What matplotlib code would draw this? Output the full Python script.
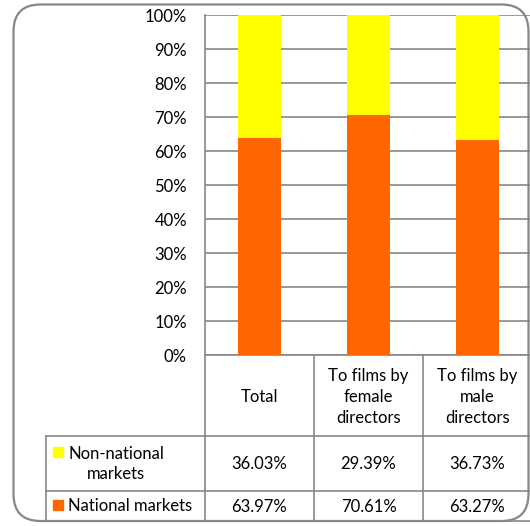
import matplotlib.pyplot as plt
from matplotlib.patches import FancyBboxPatch, Rectangle
from matplotlib.transforms import blended_transform_factory

CATEGORIES = ["Total", "To films by\nfemale\ndirectors", "To films by\nmale\ndirectors"]
NON_NATIONAL = [36.03, 29.39, 36.73]
NATIONAL = [63.97, 70.61, 63.27]
SERIES_NAMES = ["Non-national\nmarkets", "National markets"]
Y_TICKS = list(range(0, 101, 10))

COL_NATIONAL = "#FF6600"
COL_NON = "#FFFF00"
LINE = "#878787"
FS = 12

W, H = 530, 526
plt.rcParams["font.family"] = ["Lato", "DejaVu Sans"]

fig = plt.figure(figsize=(W / 100, H / 100), dpi=100)

# overlay axes in pixel coordinates for border and table
ov = fig.add_axes([0, 0, 1, 1])
ov.set_xlim(0, W)
ov.set_ylim(H, 0)
ov.axis("off")

ax = fig.add_axes([205 / W, (H - 355) / H, 327 / W, 340 / H])
ax.patch.set_visible(False)

x = list(range(len(CATEGORIES)))
ax.bar(x, NATIONAL, width=0.4, color=COL_NATIONAL, zorder=3)
ax.bar(x, NON_NATIONAL, width=0.4, bottom=NATIONAL, color=COL_NON, zorder=3)

ax.set_xlim(-0.5, len(CATEGORIES) - 0.5)
ax.set_ylim(0, 100)
ax.set_yticks(Y_TICKS)
ax.set_yticklabels([f"{t}%" for t in Y_TICKS], fontsize=FS)
ax.tick_params(axis="y", length=0, pad=13)
ax.set_xticks([])
ax.yaxis.grid(True, color=LINE, lw=1.2)
ax.set_axisbelow(True)
for side in ["top", "right", "bottom"]:
    ax.spines[side].set_visible(False)
ax.spines["left"].set_color(LINE)
ax.spines["left"].set_linewidth(1.2)

# outer rounded border
border = FancyBboxPatch((13.5, 4.5), 515, 516.5,
                        boxstyle="round,pad=0,rounding_size=27",
                        fc="none", ec=LINE, lw=1.6, clip_on=False)
ov.add_patch(border)

# data table
tr = blended_transform_factory(ax.transData, ov.transData)
row_y = [355, 436, 491, 521]
ov.plot([205, W + 5], [355, 355], color=LINE, lw=1.2)
for yy in row_y[1:]:
    ov.plot([46, W + 5], [yy, yy], color=LINE, lw=1.2)
ov.plot([46, 46], [436, 521], color=LINE, lw=1.2)
for b in [-0.5, 0.5, 1.5, 2.5]:
    ax.plot([b, b], [355, 521], color=LINE, lw=1.2, transform=tr, clip_on=False)

for i, cat in enumerate(CATEGORIES):
    ax.text(i, 397, cat, transform=tr, ha="center", va="center",
            fontsize=FS, linespacing=1.35)
    ax.text(i, 464, f"{NON_NATIONAL[i]:.2f}%", transform=tr, ha="center",
            va="center", fontsize=FS)
    ax.text(i, 507, f"{NATIONAL[i]:.2f}%", transform=tr, ha="center",
            va="center", fontsize=FS)

ov.add_patch(Rectangle((53, 447), 10, 10, color=COL_NON))
ov.text(68, 464, SERIES_NAMES[0], ha="left", va="center", fontsize=FS,
        multialignment="center", linespacing=1.35)
ov.add_patch(Rectangle((53, 500), 10, 10, color=COL_NATIONAL))
ov.text(68, 506, SERIES_NAMES[1], ha="left", va="center", fontsize=FS)

fig.savefig("out.png", dpi=100)
